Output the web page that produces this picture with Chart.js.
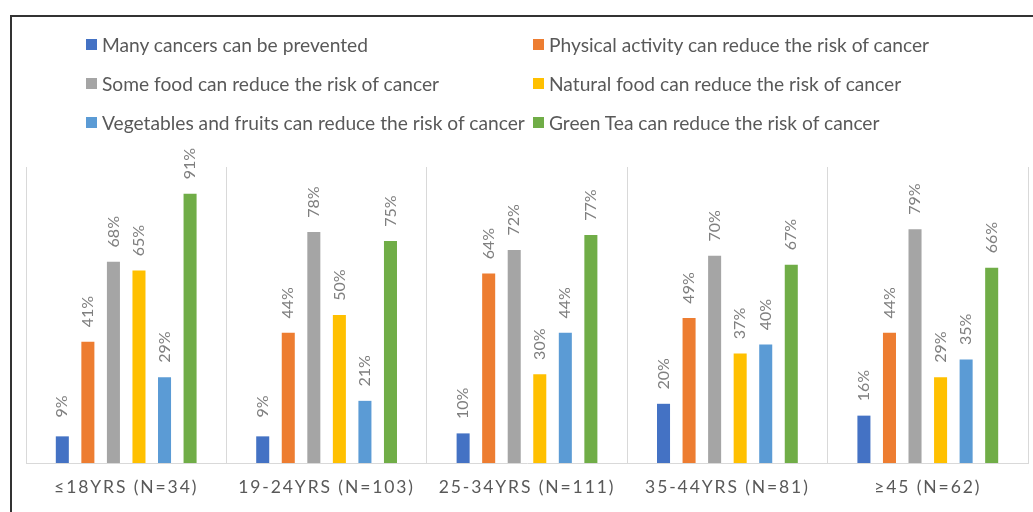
<!DOCTYPE html>
<html>
<head>
<meta charset="utf-8">
<script src="https://cdn.jsdelivr.net/npm/chart.js@4.4.1/dist/chart.umd.min.js"></script>
<style>
  html, body { margin: 0; padding: 0; background: #fff; }
  .wrap { position: relative; width: 1033px; height: 512px; overflow: hidden; }
  .frame { position: absolute; left: 10px; top: 15px; width: 1040px; height: 520px; border: 2px solid #333; box-sizing: border-box; }
  canvas { position: absolute; left: 0; top: 0; }
  .legend { position: absolute; left: 86px; top: 33px; display: grid; grid-template-columns: 447px auto; row-gap: 16px; font-family: Lato, sans-serif; font-size: 19.2px; color: #595959; }
  .legend-item { display: flex; align-items: center; height: 23px; white-space: nowrap; }
  .legend-box { width: 11px; height: 11px; margin-right: 5px; flex: none; }
</style>
</head>
<body>
<div class="wrap">
  <div class="frame"></div>
  <canvas id="chart" width="1033" height="512"></canvas>
  <div class="legend" id="legend"></div>
</div>
<script>
const groups = ["≤18YRS (N=34)", "19-24YRS (N=103)", "25-34YRS (N=111)", "35-44YRS (N=81)", "≥45 (N=62)"];

const seriesNames = [
  "Many cancers can be prevented",
  "Physical activity can reduce the risk of cancer",
  "Some food can reduce the risk of cancer",
  "Natural food can reduce the risk of cancer",
  "Vegetables and fruits can reduce the risk of cancer",
  "Green Tea can reduce the risk of cancer",
];
const seriesColors = ["#4472C4", "#ED7D31", "#A5A5A5", "#FFC000", "#5B9BD5", "#70AD47"];

const preventable = [9, 9, 10, 20, 16];
const physicalActivity = [41, 44, 64, 49, 44];
const someFood = [68, 78, 72, 70, 79];
const naturalFood = [65, 50, 30, 37, 29];
const vegFruits = [29, 21, 44, 40, 35];
const greenTea = [91, 75, 77, 67, 66];

const seriesValues = [preventable, physicalActivity, someFood, naturalFood, vegFruits, greenTea];

// legend, two columns like the original
const legendEl = document.getElementById("legend");
seriesNames.forEach((name, i) => {
  legendEl.insertAdjacentHTML(
    "beforeend",
    `<div class="legend-item"><span class="legend-box" style="background:${seriesColors[i]}"></span>${name}</div>`
  );
});

// rotated % labels above each bar
const barLabels = {
  id: "barLabels",
  afterDatasetsDraw(chart) {
    const ctx = chart.ctx;
    ctx.save();
    ctx.letterSpacing = "0px";
    ctx.fillStyle = "#7f7f7f";
    ctx.font = "16px Lato, sans-serif";
    ctx.textAlign = "center";
    ctx.textBaseline = "middle";
    chart.data.datasets.forEach((ds, i) => {
      chart.getDatasetMeta(i).data.forEach((bar, j) => {
        ctx.save();
        ctx.translate(bar.x, bar.y - 30);
        ctx.rotate(-Math.PI / 2);
        ctx.fillText(ds.data[j] + "%", 0, 0);
        ctx.restore();
      });
    });
    ctx.restore();
  },
};

// spaced-out category labels
const spacedTicks = {
  id: "spacedTicks",
  beforeDraw(chart) {
    chart.ctx.letterSpacing = "1.9px";
  },
  beforeDatasetsDraw(chart) {
    chart.ctx.letterSpacing = "0px";
  },
};

new Chart(document.getElementById("chart"), {
  type: "bar",
  data: {
    labels: groups,
    datasets: seriesValues.map((vals, i) => ({
      label: seriesNames[i],
      data: vals,
      backgroundColor: seriesColors[i],
      categoryPercentage: 0.765,
      barPercentage: 0.51,
    })),
  },
  options: {
    responsive: false,
    animation: false,
    layout: { padding: { left: 26, right: 5, top: 167, bottom: 0 } },
    plugins: {
      legend: { display: false },
      tooltip: { enabled: false },
    },
    scales: {
      x: {
        grid: { color: "#d9d9d9", drawTicks: false, offset: true },
        border: { color: "#d9d9d9" },
        ticks: {
          color: "#595959",
          padding: 14,
          maxRotation: 0,
          font: { family: "Lato, sans-serif", size: 17.5 },
        },
      },
      y: {
        display: false,
        min: 0,
        max: 100,
      },
    },
  },
  plugins: [barLabels, spacedTicks],
});
</script>
</body>
</html>
